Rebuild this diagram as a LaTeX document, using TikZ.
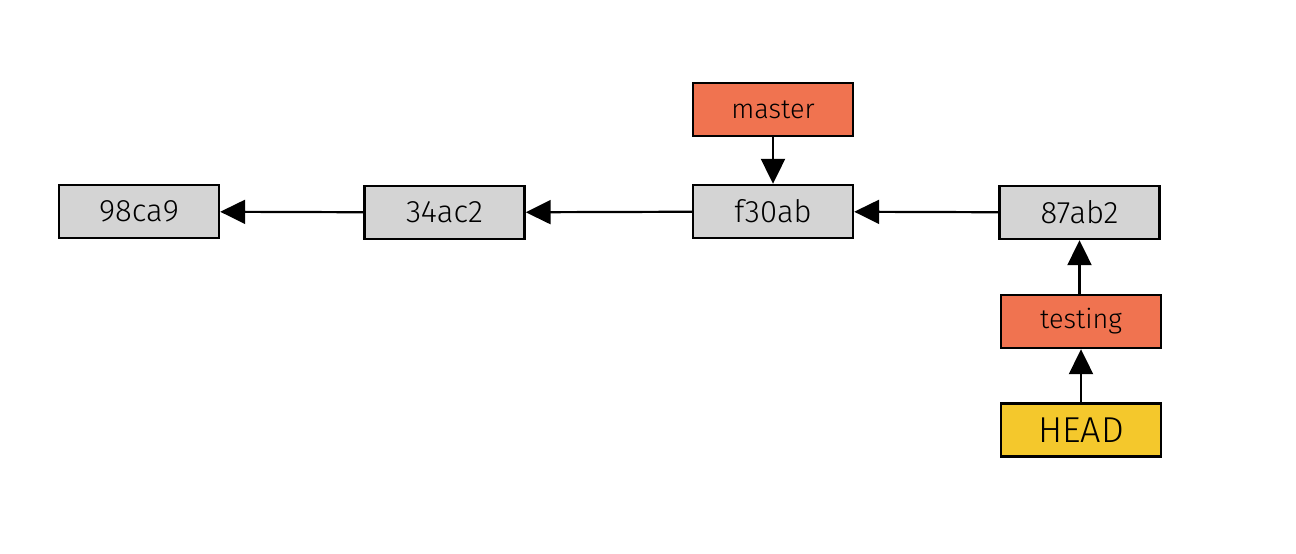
\documentclass[tikz,border=0pt]{standalone}
\usepackage{fontspec}
\setmainfont{Fira Sans Light}
\usetikzlibrary{arrows.meta}
\definecolor{commitgray}{HTML}{D4D4D4}
\definecolor{branchorange}{HTML}{F07350}
\definecolor{headyellow}{HTML}{F4C82C}
\begin{document}
\begin{tikzpicture}[x=1pt,y=-1pt,
  box/.style={draw=black,line width=2.4pt,minimum width=160pt,minimum height=53pt,inner sep=0pt,font=\fontsize{31}{34}\selectfont},
  commit/.style={box,fill=commitgray},
  branch/.style={box,fill=branchorange,font=\fontsize{27}{30}\selectfont},
  headbox/.style={box,fill=headyellow,font=\fontsize{36}{40}\selectfont},
  link/.style={line width=2.2pt,-{Triangle[length=25pt,width=24pt]}}]
\useasboundingbox (0,0) rectangle (1296,554);
\node[commit] (c1) at (139,211.5) {98ca9};
\node[commit] (c2) at (444.5,212.5) {34ac2};
\node[commit] (c3) at (773,211.5) {f30ab};
\node[commit] (c4) at (1079.5,212.5) {87ab2};
\node[branch] (master) at (773,109.5) {master};
\node[branch] (testing) at (1081,321.5) {testing};
\node[headbox] (head) at (1081,430) {HEAD};
\draw[link] (c2) -- (c1);
\draw[link] (c3) -- (c2);
\draw[link] (c4) -- (c3);
\draw[link] (master) -- (c3);
\draw[link] (testing.north -| c4) -- (c4);
\draw[link] (head) -- (testing);
\end{tikzpicture}
\end{document}
